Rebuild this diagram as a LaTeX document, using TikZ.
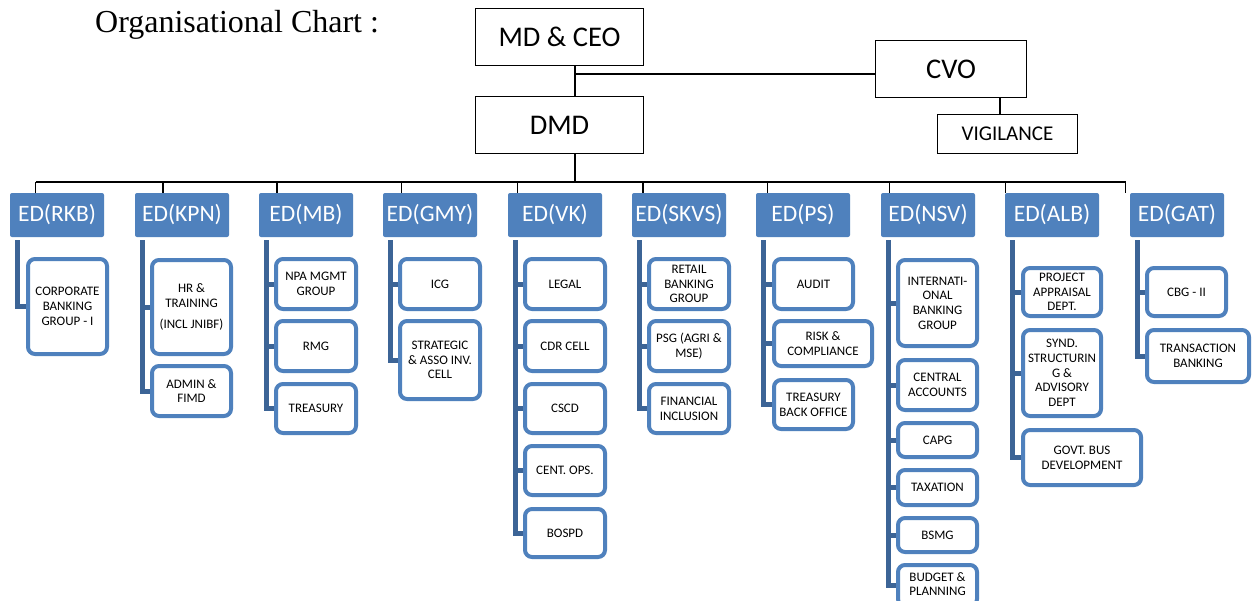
\documentclass[tikz,border=0pt]{standalone}
\usepackage{fontspec}
\setmainfont{Liberation Serif}
\newfontfamily\calfont{Carlito}
\usetikzlibrary{backgrounds}
\definecolor{edblue}{HTML}{4F81BD}
\definecolor{bardark}{HTML}{3C6496}
\tikzset{
  conn/.style={draw=black, line width=1.3pt},
  topbox/.style={draw=black, line width=1.3pt, fill=white, inner sep=0pt, font=\calfont\fontsize{28.5}{32}\selectfont},
  edbox/.style={fill=edblue, rounded corners=2pt, minimum width=94pt, minimum height=44pt, inner sep=0pt, text=white, font=\calfont\fontsize{23.5}{26}\selectfont},
  cbx/.style={draw=edblue, line width=4pt, fill=white, rounded corners=7pt, inner sep=0pt, align=center, font=\calfont\fontsize{13}{14.7}\selectfont},
  barline/.style={draw=bardark, line width=5pt}
}
\newcommand\cbox[6]{\node[cbx, minimum width={#4-#2-4}, minimum height={#5-#3-4}] (#1) at ({(#2+#4)/2},{(#3+#5)/2}) {#6};}
\begin{document}
\begin{tikzpicture}[x=1pt,y=-1pt]
\clip (0,0) rectangle (1252,600);
% title
\node[font=\fontsize{32}{36}\selectfont, anchor=base west, inner sep=0pt] (title) at (95,32) {Organisational Chart :};
% top boxes
\node[topbox, minimum width=168pt, minimum height=57pt] (md) at (559.5,37) {MD \& CEO};
\node[topbox, minimum width=168pt, minimum height=57pt] (dmd) at (559.5,125) {DMD};
\node[topbox, minimum width=151pt, minimum height=57pt] (cvo) at (951,69) {CVO};
\node[topbox, minimum width=140pt, minimum height=39pt, font=\calfont\fontsize{21}{24}\selectfont] (vig) at (1007.5,134) {\raisebox{-4pt}{VIGILANCE}};
\coordinate (j) at (575,74);
\coordinate (bus) at (0,182);
\draw[conn] ([xshift=15.5]md.south) -- ([xshift=15.5]dmd.north);
\draw[conn] (j) -- (j -| cvo.west);
\draw[conn] ([xshift=-7.5]vig.north) -- ([xshift=-7.5]vig.north |- cvo.south);
% ED boxes
\node[edbox] (ed1) at (57,215) {ED(RKB)};
\node[edbox] (ed2) at (182,215) {ED(KPN)};
\node[edbox] (ed3) at (306,215) {ED(MB)};
\node[edbox] (ed4) at (430,215) {ED(GMY)};
\node[edbox] (ed5) at (555,215) {ED(VK)};
\node[edbox] (ed6) at (679,215) {ED(SKVS)};
\node[edbox] (ed7) at (803,215) {ED(PS)};
\node[edbox] (ed8) at (928,215) {ED(NSV)};
\node[edbox] (ed9) at (1052,215) {ED(ALB)};
\node[edbox] (ed10) at (1177,215) {ED(GAT)};
% bus
\draw[conn] ([xshift=15.5]dmd.south) -- ([xshift=15.5]dmd.south |- bus);
\draw[conn] ([xshift=25.7]ed1.north west |- bus) -- ([xshift=-4]ed10.north west |- bus);
\draw[conn] ([xshift=25.7]ed1.north west) -- ([xshift=25.7]ed1.north west |- bus);
\draw[conn] ([xshift=28.3]ed2.north west) -- ([xshift=28.3]ed2.north west |- bus);
\draw[conn] ([xshift=18.3]ed3.north west) -- ([xshift=18.3]ed3.north west |- bus);
\draw[conn] ([xshift=18.7]ed4.north west) -- ([xshift=18.7]ed4.north west |- bus);
\draw[conn] ([xshift=9.7]ed5.north west) -- ([xshift=9.7]ed5.north west |- bus);
\draw[conn] ([xshift=11.3]ed6.north west) -- ([xshift=11.3]ed6.north west |- bus);
\draw[conn] ([xshift=11.7]ed7.north west) -- ([xshift=11.7]ed7.north west |- bus);
\draw[conn] ([xshift=8.7]ed8.north west) -- ([xshift=8.7]ed8.north west |- bus);
\draw[conn] ([xshift=0.7]ed9.north west) -- ([xshift=0.7]ed9.north west |- bus);
\draw[conn] ([xshift=-4]ed10.north west) -- ([xshift=-4]ed10.north west |- bus);
% children
\cbox{c11}{26}{257}{109}{356}{\fontsize{13}{20}\selectfont CORPORATE\\BANKING\\GROUP - I}
\cbox{c21}{150}{258}{233}{356}{HR \&\\TRAINING\\[7pt](INCL JNIBF)}
\cbox{c22}{150}{364}{233}{418}{ADMIN \&\\FIMD}
\cbox{c31}{274}{257}{358}{311}{NPA MGMT\\GROUP}
\cbox{c32}{274}{319}{358}{373}{RMG}
\cbox{c33}{274}{382}{358}{435}{TREASURY}
\cbox{c41}{398}{257}{482}{311}{ICG}
\cbox{c42}{398}{319}{482}{401}{STRATEGIC\\\& ASSO INV.\\CELL}
\cbox{c51}{523}{257}{607}{311}{LEGAL}
\cbox{c52}{523}{319}{607}{373}{CDR CELL}
\cbox{c53}{523}{382}{607}{435}{CSCD}
\cbox{c54}{523}{444}{607}{497}{CENT. OPS.}
\cbox{c55}{523}{507}{607}{559}{BOSPD}
\cbox{c61}{647}{257}{731}{311}{RETAIL\\BANKING\\GROUP}
\cbox{c62}{647}{319}{731}{373}{PSG (AGRI \&\\MSE)}
\cbox{c63}{647}{382}{731}{435}{FINANCIAL\\INCLUSION}
\cbox{c71}{772}{257}{855}{311}{AUDIT}
\cbox{c72}{772}{319}{874}{368}{RISK \&\\COMPLIANCE}
\cbox{c73}{772}{378}{855}{431}{TREASURY\\BACK OFFICE}
\cbox{c81}{896}{258}{979}{348}{INTERNATI-\\ONAL\\BANKING\\GROUP}
\cbox{c82}{896}{358}{979}{412}{CENTRAL\\ACCOUNTS}
\cbox{c83}{896}{421}{979}{459}{CAPG}
\cbox{c84}{896}{468}{979}{507}{TAXATION}
\cbox{c85}{896}{516}{979}{554}{BSMG}
\cbox{c86}{896}{563}{979}{608}{\raisebox{2pt}{\begin{tabular}{@{}c@{}}BUDGET \&\\PLANNING\end{tabular}}}
\cbox{c91}{1021}{266}{1103}{318}{PROJECT\\APPRAISAL\\DEPT.}
\cbox{c92}{1021}{328}{1103}{418}{SYND.\\STRUCTURIN\\G \&\\ADVISORY\\DEPT}
\cbox{c93}{1021}{428}{1143}{487}{GOVT. BUS\\DEVELOPMENT}
\cbox{c101}{1145}{266}{1228}{318}{CBG - II}
\cbox{c102}{1145}{328}{1251}{384}{TRANSACTION\\BANKING}
% bars
\begin{scope}[on background layer]
\fill[white] (0,0) rectangle (1252,600);
\foreach \e/\cl in {ed1/{c11}, ed2/{c21,c22}, ed3/{c31,c32,c33}, ed4/{c41,c42}, ed5/{c51,c52,c53,c54,c55}, ed6/{c61,c62,c63}, ed7/{c71,c72,c73}, ed8/{c81,c82,c83,c84,c85,c86}, ed9/{c91,c92,c93}, ed10/{c101,c102}}{
  \foreach \c in \cl {
    \draw[barline] ([xshift=8pt,yshift=-3pt]\e.south west) |- (\c.west);
  }
}
\end{scope}
\end{tikzpicture}
\end{document}
